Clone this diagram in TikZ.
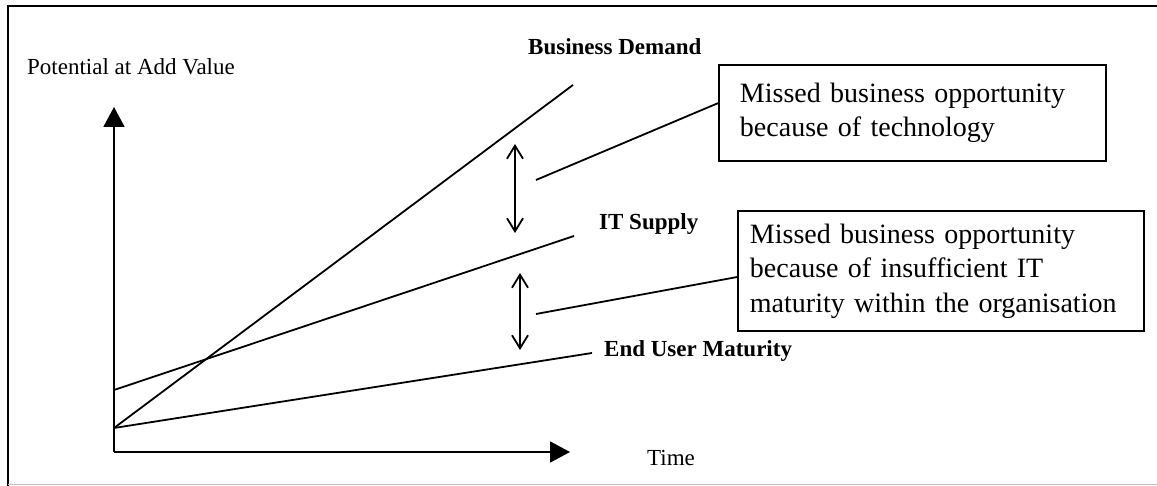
\documentclass[tikz,border=0pt]{standalone}
\usepackage{fontspec}
\setmainfont{Liberation Serif}
\usetikzlibrary{arrows.meta,calc}
\begin{document}
\begin{tikzpicture}[x=1pt,y=-1pt,
  line/.style={line width=1.8pt},
  axis/.style={line width=1.9pt,-{Triangle[length=20pt,width=21pt]}},
  gap/.style={line width=1.8pt,{Straight Barb[length=13pt,width=16pt]}-{Straight Barb[length=13pt,width=16pt]}},
  lab/.style={anchor=base west,inner sep=0pt,font=\fontsize{23}{27}\selectfont},
  blab/.style={anchor=base west,inner sep=0pt,font=\fontsize{23}{27}\selectfont\bfseries},
  box/.style={draw,line width=1.9pt,anchor=north west,align=left,font=\fontsize{28}{34.5}\selectfont}]
\useasboundingbox (0,0) rectangle (1157,486);
% frame
\draw[line width=2.4pt] (8,486) -- (8,6) -- (1157,6);
\draw[black!25,line width=1.5pt] (8,484.5) -- (1157,484.5);
% coordinates
\coordinate (orig) at (114,452);
\coordinate (ytip) at (114,107);
\coordinate (xtip) at (570,452);
\coordinate (O) at (114,428);
\coordinate (IS0) at (114,390);
\coordinate (BDend) at (573,85);
\coordinate (ISend) at (574,236);
\coordinate (EUend) at (592,353);
\coordinate (g1a) at (515,144);
\coordinate (g1b) at (515,233);
\coordinate (g2a) at (520,273);
\coordinate (g2b) at (520,350);
\coordinate (l1) at (536,180);
\coordinate (l2) at (536,314);
% axes
\draw[axis] (orig) -- (ytip);
\draw[axis] (orig) -- (xtip);
% lines
\draw[line] (O) -- (BDend);
\draw[line] (IS0) -- (ISend);
\draw[line] (O) -- (EUend);
% gaps
\draw[gap] (g1a) -- (g1b);
\draw[gap] (g2a) -- (g2b);
% labels
\node[lab] (ylab) at (27,75) {Potential at Add Value};
\node[lab] (xlab) at (647,465) {Time};
\node[blab] (bd) at (528,55) {Business Demand};
\node[blab] (is) at (599,230) {IT Supply};
\node[blab] (eu) at (604,356) {End User Maturity};
% boxes
\node[box,text width=345pt,inner xsep=21pt,minimum height=96pt] (box1) at (718,64)
  {Missed business opportunity\\because of technology};
\node[box,text width=382pt,inner xsep=12pt,minimum height=120pt] (box2) at (737,210)
  {\raisebox{-3pt}{\parbox[b]{382pt}{Missed business opportunity\\because of insufficient IT\\maturity within the organisation}}};
% leaders
\draw[line] (l1) -- ($(box1.north west)!0.4!(box1.south west)$);
\draw[line] (l2) -- ($(box2.north west)!0.55!(box2.south west)$);
\end{tikzpicture}
\end{document}
